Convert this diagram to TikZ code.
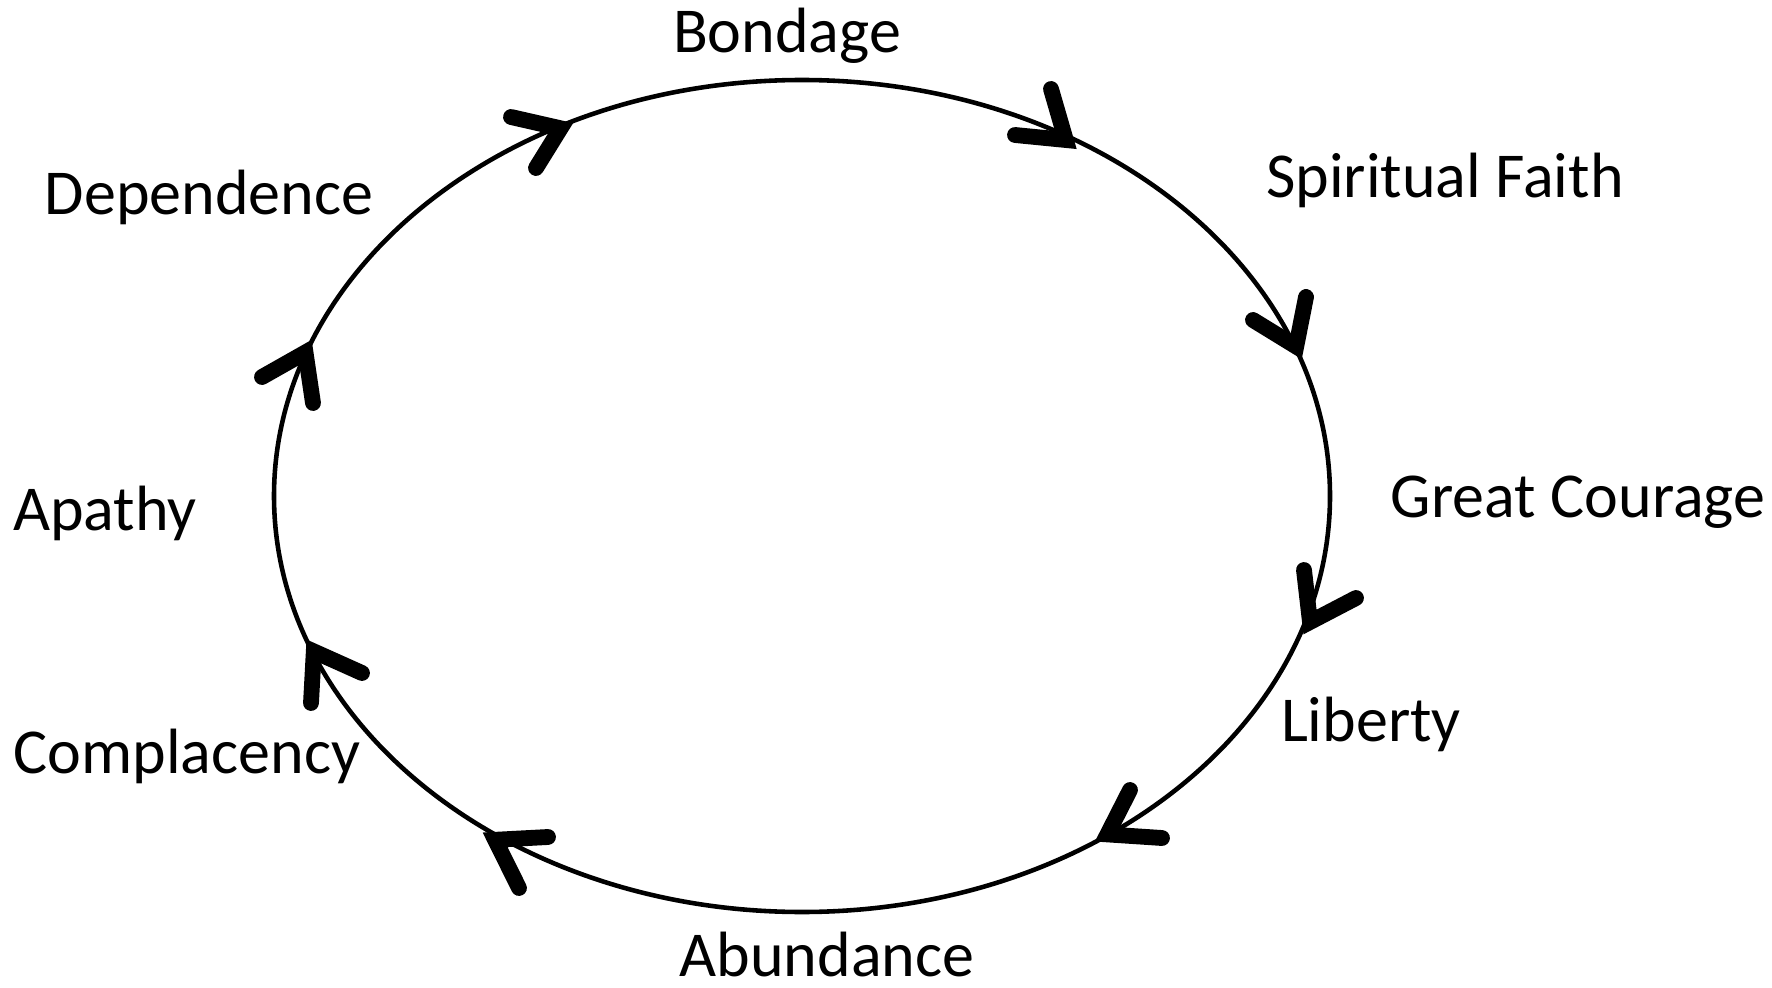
\documentclass[tikz,border=0pt]{standalone}
\usepackage{fontspec}
\setmainfont{Carlito}
\begin{document}
\begin{tikzpicture}[x=0.01cm, y=-0.01cm, stage/.style = {anchor=base, inner sep=0pt, font=\fontsize{18.2}{22}\selectfont}, barb/.style = {line width=4.5pt, line cap=round, line join=miter, miter limit=10}]
        \useasboundingbox (0,0) rectangle (1772,988);
        \node[stage] (bondage) at (787,53) {Bondage};
        \node[stage] (faith) at (1445,198) {Spiritual Faith};
        \node[stage] (courage) at (1578,517) {Great Courage};
        \node[stage] (liberty) at (1371,741) {Liberty};
        \node[stage] (abundance) at (827,976) {Abundance};
        \node[stage] (complacency) at (187,773) {Complacency};
        \node[stage] (apathy) at (105,530) {Apathy};
        \node[stage] (dependence) at (209,215) {Dependence};
        \draw[line width=1.3pt] (802,496) ellipse [x radius=528, y radius=416];
        \draw[barb] (511,117) -- (560.6,128.3) -- (536,168);
        \draw[barb] (1015,135) -- (1065.8,140) -- (1051,89);
        \draw[barb] (1253,320) -- (1296.2,346.5) -- (1306,297);
        \draw[barb] (1304,570) -- (1310,622) -- (1356,598);
        \draw[barb] (1130,790) -- (1107.4,834.4) -- (1162,838);
        \draw[barb] (548,837) -- (495.1,839.8) -- (519,888);
        \draw[barb] (362,673) -- (313.8,651.4) -- (311,703);
        \draw[barb] (262,377) -- (305.5,352.4) -- (313,403);
    \end{tikzpicture}
\end{document}
